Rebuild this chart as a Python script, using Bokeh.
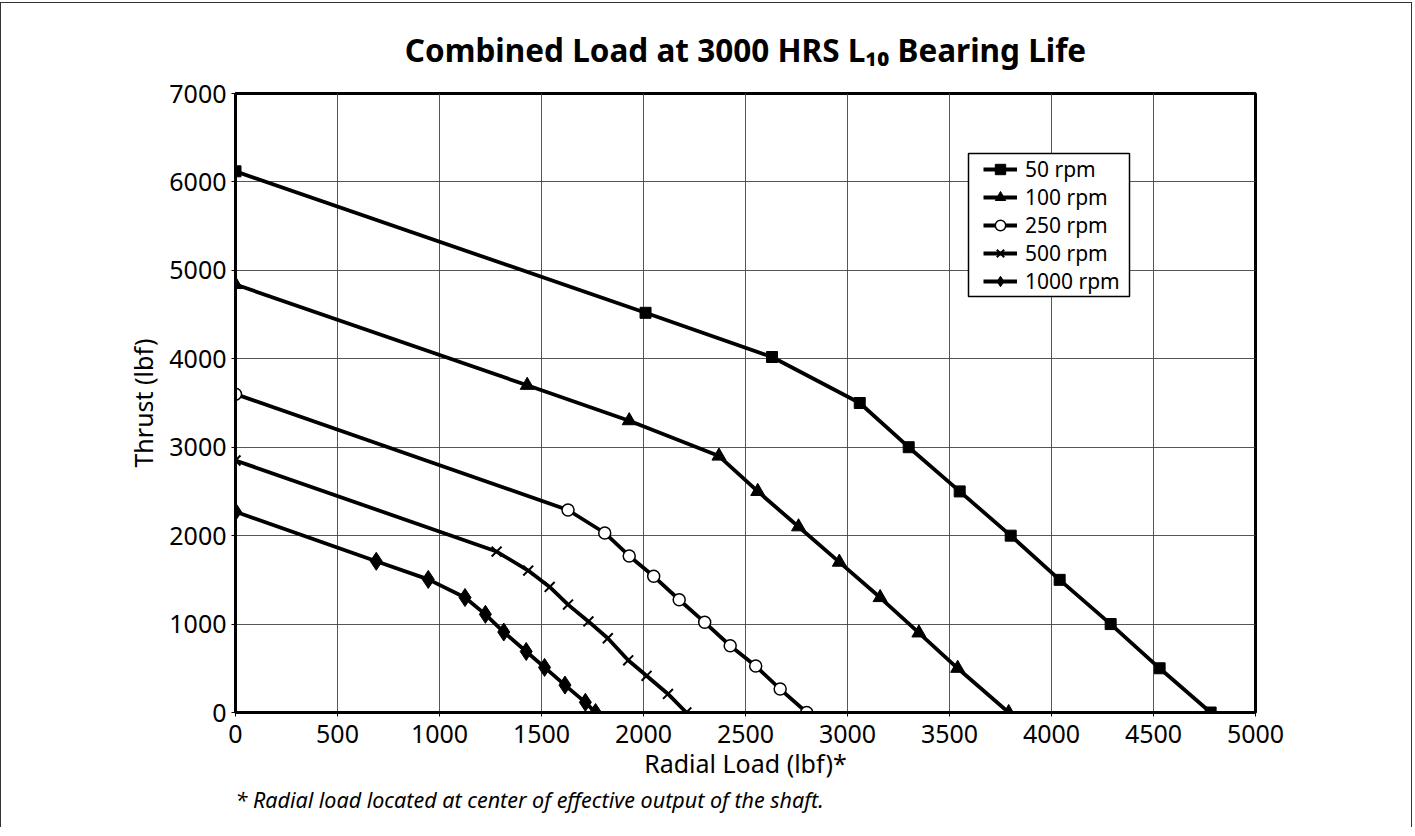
from bokeh.plotting import figure
from bokeh.models import Range1d, FixedTicker, Legend, Title, BoxAnnotation
from bokeh.embed import file_html
from bokeh.resources import INLINE

# ---- data ----
x_50 = [0, 2010, 2630, 3060, 3300, 3550, 3800, 4040, 4290, 4530, 4780]
y_50 = [6120, 4520, 4020, 3500, 3000, 2500, 2000, 1500, 1000, 500, 0]

x_100 = [0, 1430, 1930, 2370, 2560, 2760, 2960, 3160, 3350, 3540, 3790]
y_100 = [4840, 3700, 3300, 2900, 2500, 2100, 1700, 1300, 900, 500, 0]

x_250 = [0, 1630, 1810, 1930, 2050, 2175, 2300, 2425, 2550, 2670, 2800]
y_250 = [3600, 2290, 2030, 1770, 1540, 1275, 1020, 755, 525, 265, 0]

x_500 = [0, 1280, 1435, 1540, 1630, 1730, 1825, 1925, 2015, 2120, 2210]
y_500 = [2850, 1820, 1605, 1420, 1220, 1030, 840, 590, 415, 210, 0]

x_1000 = [0, 690, 945, 1125, 1225, 1315, 1425, 1515, 1615, 1715, 1765]
y_1000 = [2270, 1710, 1505, 1300, 1110, 910, 690, 510, 310, 115, 0]

series_labels = ["50 rpm", "100 rpm", "250 rpm", "500 rpm", "1000 rpm"]
x_ticks = [0, 500, 1000, 1500, 2000, 2500, 3000, 3500, 4000, 4500, 5000]
y_ticks = [0, 1000, 2000, 3000, 4000, 5000, 6000, 7000]

title_text = "Combined Load at 3000 HRS L\u2081\u2080 Bearing Life"
x_label = "Radial Load (lbf)*"
y_label = "Thrust (lbf)"
footnote = "* Radial load located at center of effective output of the shaft."

FONT = "Noto Sans"

p = figure(width=1412, height=825, output_backend="svg", toolbar_location=None,
           x_range=Range1d(0, 5000), y_range=Range1d(0, 7000),
           min_border_left=234, min_border_right=158,
           min_border_top=88, min_border_bottom=116)
p.styles = {"border-top": "1px solid #333", "border-left": "1px solid #333",
            "border-right": "1px solid #333", "margin-top": "2px"}

p.title.text = title_text
p.title.align = "center"
p.title.text_font = FONT
p.title.text_font_size = "31.5px"
p.title.text_font_style = "bold"
p.title.text_color = "black"
p.title.standoff = 45

p.outline_line_color = "black"
p.outline_line_width = 3

for ax in (p.xaxis[0], p.yaxis[0]):
    ax.axis_line_color = "black"
    ax.axis_line_width = 3
    ax.major_tick_out = 4
    ax.major_tick_in = 0
    ax.major_tick_line_color = "black"
    ax.major_tick_line_width = 1
    ax.minor_tick_line_color = None
    ax.major_label_text_font = FONT
    ax.major_label_text_font_size = "25px"
    ax.major_label_text_color = "black"
    ax.axis_label_text_font = FONT
    ax.axis_label_text_font_size = "25px"
    ax.axis_label_text_font_style = "normal"
    ax.axis_label_text_color = "black"

p.xaxis.ticker = FixedTicker(ticks=x_ticks)
p.yaxis.ticker = FixedTicker(ticks=y_ticks)
p.xaxis.axis_label = x_label
p.yaxis.axis_label = y_label
p.xaxis.major_label_standoff = 8
p.yaxis.major_label_standoff = 5
p.xaxis.axis_label_standoff = 0
p.yaxis.axis_label_standoff = 6

p.grid.grid_line_color = "#444444"
p.grid.grid_line_width = 1
p.grid.grid_line_alpha = 0.9

LW = 3.8
items = []
r = p.line(x_50, y_50, line_color="black", line_width=LW)
s = p.scatter(x_50, y_50, marker="square", size=11, fill_color="black", line_color="black")
items.append((series_labels[0], [r, s]))

r = p.line(x_100, y_100, line_color="black", line_width=LW)
s = p.scatter(x_100, y_100, marker="triangle", size=14, fill_color="black", line_color="black")
items.append((series_labels[1], [r, s]))

r = p.line(x_250, y_250, line_color="black", line_width=LW)
s = p.scatter(x_250, y_250, marker="circle", size=12, fill_color="white", line_color="black", line_width=1.5)
items.append((series_labels[2], [r, s]))

r = p.line(x_500, y_500, line_color="black", line_width=LW)
s = p.scatter(x_500, y_500, marker="x", size=14, line_color="black", line_width=2)
items.append((series_labels[3], [r, s]))

r = p.line(x_1000, y_1000, line_color="black", line_width=LW)
s = p.scatter(x_1000, y_1000, marker="diamond", size=18, fill_color="black", line_color="black")
items.append((series_labels[4], [r, s]))

# legend frame (screen units, relative to the plot area)
legend_box = BoxAnnotation(left=733, right=894, top=559, bottom=416,
                           left_units="screen", right_units="screen",
                           top_units="screen", bottom_units="screen",
                           fill_color="white", fill_alpha=1,
                           line_color="black", line_width=1.5, line_alpha=1)
p.add_layout(legend_box)

legend = Legend(items=items, location=(748, 417))
legend.label_text_font = FONT
legend.label_text_font_size = "21px"
legend.label_text_color = "black"
legend.glyph_width = 34
legend.glyph_height = 26
legend.label_height = 26
legend.spacing = 0
legend.padding = 0
legend.margin = 0
legend.label_standoff = 8
legend.border_line_color = None
legend.background_fill_alpha = 0
p.add_layout(legend, "center")

fn = Title(text=footnote, align="left", text_font=FONT, text_font_size="21.5px",
           text_font_style="italic", text_color="black", standoff=0)
p.add_layout(fn, "below")

open("out.html", "w").write(file_html(p, INLINE))
